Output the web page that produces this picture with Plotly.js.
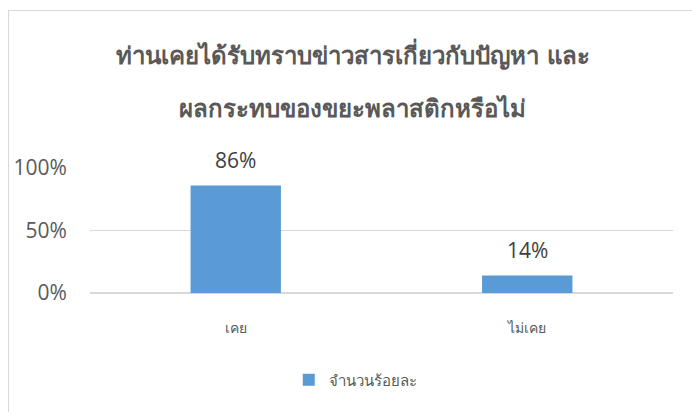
<!DOCTYPE html>
<html>
<head>
<meta charset="utf-8">
<script src="https://cdn.plot.ly/plotly-3.0.1.min.js"></script>
<style>
html,body{margin:0;padding:0;background:#fff;}
#wrap{position:relative;width:692px;height:412px;overflow:hidden;}
#frame{position:absolute;left:8px;top:10px;width:700px;height:420px;border:1px solid #d9d9d9;box-sizing:border-box;pointer-events:none;}
#chart{position:absolute;left:0;top:0;width:692px;height:412px;}
</style>
</head>
<body>
<div id="wrap"><div id="chart"></div><div id="frame"></div></div>
<script>
var categories = ["เคย", "ไม่เคย"];
var values = [0.86, 0.14];
var seriesName = "จำนวนร้อยละ";
var titleLines = ["ท่านเคยได้รับทราบข่าวสารเกี่ยวกับปัญหา และ", "ผลกระทบของขยะพลาสติกหรือไม่"];
var yTickVals = [0, 0.5, 1];
var yTickText = ["0%", "50%", "100%"];

var trace = {
  type: "bar",
  x: categories,
  y: values,
  name: seriesName,
  marker: {color: "#5b9bd5"},
  showlegend: true,
  hoverinfo: "none"
};

var labels = categories.map(function(c, i){
  return {
    x: c, y: values[i], xref: "x", yref: "y",
    text: Math.round(values[i]*100) + "%",
    showarrow: false, yanchor: "bottom", yshift: 10,
    font: {family: "Open Sans, DejaVu Sans, sans-serif", size: 21, color: "#404040"}
  };
});

var layout = {
  width: 692, height: 412,
  margin: {l: 90, r: 19, t: 168, b: 119, autoexpand: false},
  paper_bgcolor: "#fff", plot_bgcolor: "#fff",
  bargap: 0.69,
  title: {
    text: titleLines.map(function(s){return "<span style='font-size:24px'>" + s + "</span>";}).join("<br>"),
    x: 0.51, xref: "container", xanchor: "center",
    y: 1 - 64/412, yref: "container", yanchor: "middle",
    font: {size: 41, color: "#595959", family: "DejaVu Serif, serif", weight: "bold"}
  },
  annotations: labels,
  xaxis: {
    type: "category",
    showgrid: false, zeroline: false, showline: false,
    ticks: "outside", ticklen: 22, tickcolor: "rgba(0,0,0,0)",
    tickfont: {size: 14, color: "#595959", family: "DejaVu Sans, sans-serif"}
  },
  yaxis: {
    range: [0, 1],
    tickvals: yTickVals, ticktext: yTickText,
    showgrid: true, gridcolor: "#d9d9d9", gridwidth: 1.5,
    zeroline: true, zerolinecolor: "#d9d9d9", zerolinewidth: 1.5,
    showline: false,
    ticks: "outside", ticklen: 18, tickcolor: "rgba(0,0,0,0)",
    tickfont: {size: 21, color: "#595959", family: "Open Sans, DejaVu Sans, sans-serif"}
  },
  legend: {
    orientation: "h", x: 0.455, xanchor: "center",
    y: -0.696, yanchor: "middle",
    font: {size: 15, color: "#595959", family: "DejaVu Sans, sans-serif"}
  }
};

Plotly.newPlot("chart", [trace], layout, {displayModeBar: false, staticPlot: true});
</script>
</body>
</html>
